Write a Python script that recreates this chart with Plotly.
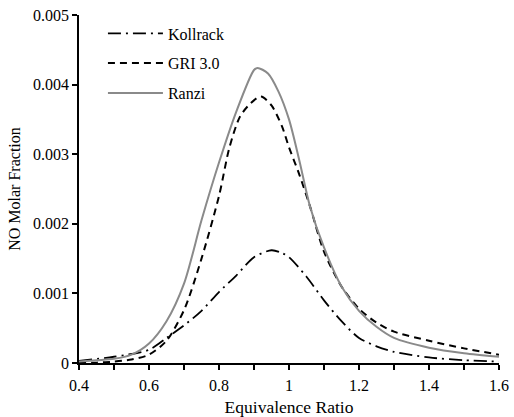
import plotly.graph_objects as go

ranzi_x = [0.4, 0.45, 0.5, 0.55, 0.6, 0.65, 0.7, 0.75, 0.8, 0.85, 0.9, 0.91, 0.94, 0.97, 1.0, 1.03, 1.06, 1.1, 1.15, 1.2, 1.25, 1.3, 1.4, 1.5, 1.6]
ranzi_y = [0.00002, 0.00004, 0.00006, 0.00012, 0.00028, 0.0006, 0.00114, 0.00205, 0.00288, 0.00362, 0.00421, 0.00424, 0.00416, 0.0039, 0.0035, 0.0029, 0.00225, 0.00166, 0.0011, 0.00075, 0.00052, 0.00036, 0.00022, 0.00014, 0.00009]

gri_x = [0.4, 0.45, 0.5, 0.55, 0.6, 0.65, 0.7, 0.75, 0.8, 0.83, 0.86, 0.89, 0.92, 0.95, 0.98, 1.0, 1.03, 1.06, 1.1, 1.15, 1.2, 1.25, 1.3, 1.4, 1.5, 1.6]
gri_y = [0.0, 0.000005, 0.00002, 0.00005, 0.00012, 0.00032, 0.00076, 0.0015, 0.00240, 0.0031, 0.00354, 0.00373, 0.00383, 0.0037, 0.0034, 0.0031, 0.0027, 0.00225, 0.0016, 0.0011, 0.00078, 0.00058, 0.00045, 0.00032, 0.00021, 0.00012]

koll_x = [0.4, 0.5, 0.6, 0.65, 0.7, 0.75, 0.8, 0.85, 0.9, 0.95, 0.98, 1.0, 1.05, 1.1, 1.15, 1.2, 1.25, 1.3, 1.4, 1.5, 1.6]
koll_y = [0.00003, 0.00009, 0.00019, 0.00036, 0.00054, 0.00075, 0.00102, 0.00126, 0.00152, 0.00162, 0.00158, 0.00152, 0.00124, 0.0009, 0.0006, 0.00036, 0.00024, 0.00016, 0.00008, 0.00004, 0.00002]

x_ticks = [0.4, 0.6, 0.8, 1.0, 1.2, 1.4, 1.6]
x_labels = ["0.4", "0.6", "0.8", "1", "1.2", "1.4", "1.6"]
x_minor = [0.5, 0.7, 0.9, 1.1, 1.3, 1.5]
y_ticks = [0, 0.001, 0.002, 0.003, 0.004, 0.005]
y_labels = ["0", "0.001", "0.002", "0.003", "0.004", "0.005"]

font = "Liberation Serif, Times New Roman, serif"

fig = go.Figure()
fig.add_trace(go.Scatter(x=koll_x, y=koll_y, name="Kollrack", mode="lines", legendgroup="a",
                         line=dict(color="black", width=1.8, dash="13px,5px,2px,5px", shape="spline", smoothing=0.8)))
fig.add_trace(go.Scatter(x=gri_x, y=gri_y, name="GRI 3.0", mode="lines", legendgroup="b",
                         line=dict(color="black", width=2, dash="7px,5px", shape="spline", smoothing=0.8)))
fig.add_trace(go.Scatter(x=ranzi_x, y=ranzi_y, name="Ranzi", mode="lines", legendgroup="c",
                         line=dict(color="#8a8a8a", width=2, shape="spline", smoothing=0.8)))

fig.update_layout(
    width=514, height=417,
    margin=dict(l=79, r=15, t=15, b=54, autoexpand=False),
    paper_bgcolor="white", plot_bgcolor="white",
    font=dict(family=font, size=16, color="black"),
    showlegend=True,
    legend=dict(x=0.057, y=0.996, xanchor="left", yanchor="top", tracegroupgap=6,
                bgcolor="rgba(0,0,0,0)", font=dict(family=font, size=16),
                itemwidth=55),
    xaxis=dict(range=[0.4, 1.6], tickvals=x_ticks, ticktext=x_labels, automargin=False,
               showgrid=False, zeroline=False, showline=True, linecolor="black", linewidth=1.5,
               ticks="outside", ticklen=5, tickwidth=1.5, tickcolor="black",
               ticklabelstandoff=2,
               tickfont=dict(family=font, size=16),
               minor=dict(tickvals=x_minor, ticks="outside", ticklen=5, tickwidth=1.5, tickcolor="black"),
               title=dict(text="Equivalence Ratio", font=dict(family=font, size=17.5), standoff=8)),
    yaxis=dict(range=[0, 0.005], tickvals=y_ticks, ticktext=y_labels, automargin=False,
               showgrid=False, zeroline=False, showline=True, linecolor="black", linewidth=1.5,
               ticks="outside", ticklen=5, tickwidth=1.5, tickcolor="black",
               tickfont=dict(family=font, size=16),
               title=dict(text="NO Molar Fraction", font=dict(family=font, size=16), standoff=8)),
)

fig.write_html("out.html", config={"displayModeBar": False},
               post_script="document.body.style.margin='0px';document.body.style.overflow='hidden';")
